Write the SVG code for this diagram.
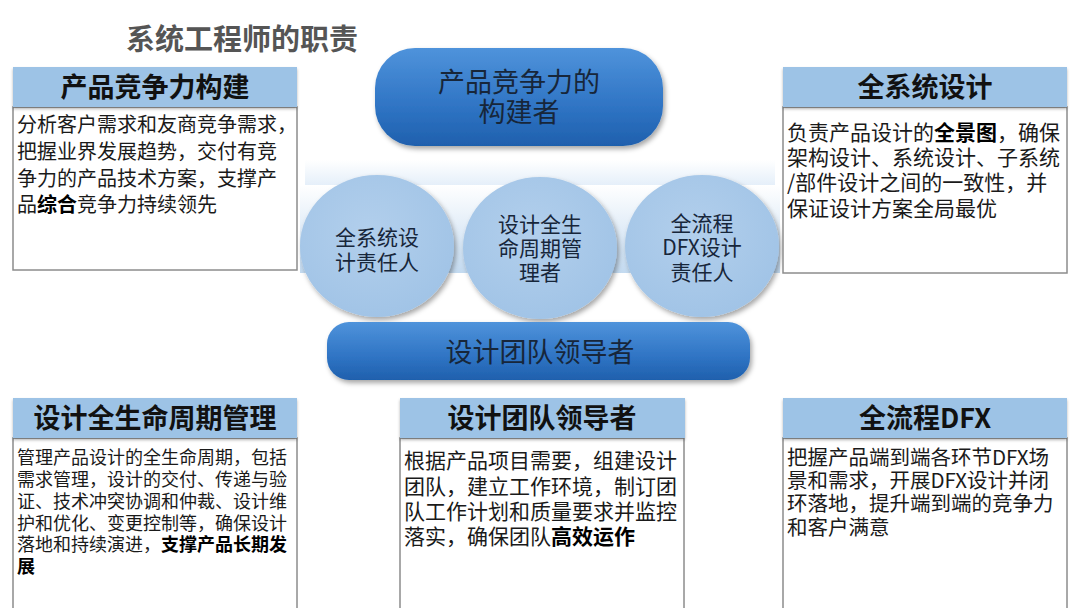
<svg xmlns="http://www.w3.org/2000/svg" width="1080" height="608" viewBox="0 0 1080 608">
<defs>
<linearGradient id="pillGrad" x1="0" y1="0" x2="0" y2="1">
<stop offset="0" stop-color="#4f93db"/>
<stop offset="0.6" stop-color="#2f74c4"/>
<stop offset="1" stop-color="#1f60ad"/>
</linearGradient>
<linearGradient id="bandGrad" x1="0" y1="0" x2="0" y2="1">
<stop offset="0" stop-color="#ffffff"/>
<stop offset="1" stop-color="#c3daf0"/>
</linearGradient>
<linearGradient id="topBand" x1="0" y1="0" x2="0" y2="1">
<stop offset="0" stop-color="#ffffff"/>
<stop offset="1" stop-color="#e3eef9"/>
</linearGradient>
<radialGradient id="circGrad" cx="0.45" cy="0.4" r="0.65">
<stop offset="0" stop-color="#b2cfec"/>
<stop offset="1" stop-color="#a0c3e6"/>
</radialGradient>
<filter id="shadow" x="-10%" y="-10%" width="125%" height="130%">
<feDropShadow dx="2" dy="3" stdDeviation="2.5" flood-color="#000" flood-opacity="0.35"/>
</filter>
<filter id="hshadow" x="-5%" y="-10%" width="110%" height="130%">
<feDropShadow dx="0" dy="2" stdDeviation="1.5" flood-color="#000" flood-opacity="0.3"/>
</filter>
</defs>
<style>
.cjk{font-family:"Noto Sans CJK SC","Liberation Sans",sans-serif;}
.title{font-size:29px;font-weight:bold;fill:#555;}
.hdr{fill:#9dc3e6;filter:url(#hshadow);}
.hdrT{font-size:27px;font-weight:bold;fill:#111;text-anchor:middle;}
.body{fill:#fff;stroke:#8c8c8c;stroke-width:1.5;}
.bt{fill:#1a1a1a;}
.b{font-weight:bold;fill:#000;}
.pill{fill:url(#pillGrad);filter:url(#shadow);}
.pillT{font-size:27px;fill:#17263a;text-anchor:middle;}
.circ{fill:url(#circGrad);filter:url(#shadow);}
.circT{font-size:21px;fill:#17263a;text-anchor:middle;}
</style>
<rect width="1080" height="608" fill="#fff"/>
<text class="cjk title" x="126" y="50">系统工程师的职责</text>

<g id="band">
<rect x="305" y="160" width="470" height="27" fill="url(#topBand)"/>
<rect x="300" y="185" width="480" height="88" fill="url(#bandGrad)"/>
</g>

<g id="top-pill">
<rect class="pill" x="375" y="48" width="288" height="98" rx="40"/>
<text class="cjk pillT" x="519" y="92">产品竞争力的</text>
<text class="cjk pillT" x="519" y="122">构建者</text>
</g>

<g id="circle-left">
<ellipse class="circ" cx="377" cy="246" rx="77" ry="71"/>
<text class="cjk circT" x="377" y="245">全系统设</text>
<text class="cjk circT" x="377" y="270">计责任人</text>
</g>
<g id="circle-mid">
<ellipse class="circ" cx="540" cy="248" rx="77" ry="71"/>
<text class="cjk circT" x="540" y="232">设计全生</text>
<text class="cjk circT" x="540" y="256">命周期管</text>
<text class="cjk circT" x="540" y="280">理者</text>
</g>
<g id="circle-right">
<ellipse class="circ" cx="702" cy="246" rx="77" ry="71"/>
<text class="cjk circT" x="702" y="231">全流程</text>
<text class="cjk circT" x="702" y="255">DFX设计</text>
<text class="cjk circT" x="702" y="280">责任人</text>
</g>

<g id="bottom-pill">
<rect class="pill" x="327" y="322" width="423" height="58" rx="22"/>
<text class="cjk pillT" x="540" y="362">设计团队领导者</text>
</g>

<g id="box-competitiveness">
<rect class="body" x="13" y="107" width="284" height="163"/>
<rect class="hdr" x="13" y="67" width="284" height="40"/>
<text class="cjk hdrT" x="155" y="97">产品竞争力构建</text>
<g class="cjk" font-size="20">
<text class="bt" x="17" y="132">分析客户需求和友商竞争需求，</text>
<text class="bt" x="17" y="159">把握业界发展趋势，交付有竞</text>
<text class="bt" x="17" y="186">争力的产品技术方案，支撑产</text>
<text class="bt" x="17" y="212">品<tspan class="b">综合</tspan>竞争力持续领先</text>
</g>
</g>

<g id="box-fullsystem">
<rect class="body" x="783" y="107" width="284" height="166"/>
<rect class="hdr" x="783" y="67" width="284" height="40"/>
<text class="cjk hdrT" x="925" y="97">全系统设计</text>
<g class="cjk" font-size="21">
<text class="bt" x="787" y="140">负责产品设计的<tspan class="b">全景图</tspan>，确保</text>
<text class="bt" x="787" y="165">架构设计、系统设计、子系统</text>
<text class="bt" x="787" y="190">/部件设计之间的一致性，并</text>
<text class="bt" x="787" y="216">保证设计方案全局最优</text>
</g>
</g>

<g id="box-lifecycle">
<rect class="body" x="13" y="438" width="284" height="180"/>
<rect class="hdr" x="13" y="398" width="284" height="40"/>
<text class="cjk hdrT" x="155" y="428">设计全生命周期管理</text>
<g class="cjk" font-size="18">
<text class="bt" x="17" y="464">管理产品设计的全生命周期，包括</text>
<text class="bt" x="17" y="486">需求管理，设计的交付、传递与验</text>
<text class="bt" x="17" y="508">证、技术冲突协调和仲裁、设计维</text>
<text class="bt" x="17" y="530">护和优化、变更控制等，确保设计</text>
<text class="bt" x="17" y="551">落地和持续演进，<tspan class="b">支撑产品长期发</tspan></text>
<text class="bt b" x="17" y="573">展</text>
</g>
</g>

<g id="box-leader">
<rect class="body" x="400" y="438" width="284" height="180"/>
<rect class="hdr" x="400" y="398" width="285" height="40"/>
<text class="cjk hdrT" x="542" y="428">设计团队领导者</text>
<g class="cjk" font-size="21">
<text class="bt" x="404" y="468">根据产品项目需要，组建设计</text>
<text class="bt" x="404" y="494">团队，建立工作环境，制订团</text>
<text class="bt" x="404" y="519">队工作计划和质量要求并监控</text>
<text class="bt" x="404" y="544">落实，确保团队<tspan class="b">高效运作</tspan></text>
</g>
</g>

<g id="box-dfx">
<rect class="body" x="783" y="438" width="284" height="180"/>
<rect class="hdr" x="783" y="398" width="284" height="40"/>
<text class="cjk hdrT" x="925" y="428">全流程DFX</text>
<g class="cjk" font-size="20.5">
<text class="bt" x="787" y="465">把握产品端到端各环节DFX场</text>
<text class="bt" x="787" y="488">景和需求，开展DFX设计并闭</text>
<text class="bt" x="787" y="511">环落地，提升端到端的竞争力</text>
<text class="bt" x="787" y="535">和客户满意</text>
</g>
</g>

<g id="connectors"/>
</svg>
